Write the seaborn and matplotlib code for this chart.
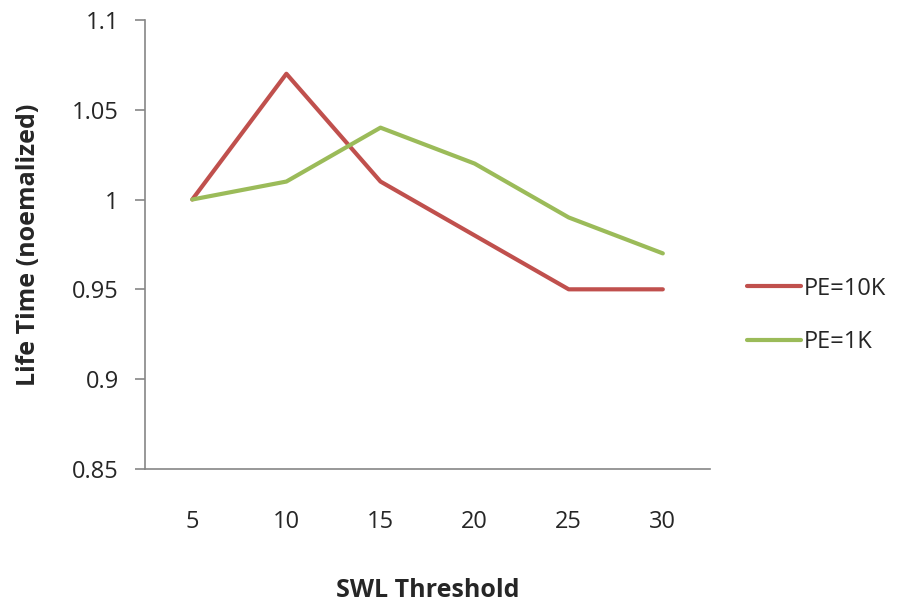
import pandas as pd
import matplotlib
matplotlib.use("Agg")
import matplotlib.pyplot as plt
import seaborn as sns

# Values
thresholds = ["5", "10", "15", "20", "25", "30"]
pe_10k = [1.00, 1.07, 1.01, 0.98, 0.95, 0.95]
pe_1k = [1.00, 1.01, 1.04, 1.02, 0.99, 0.97]
series_names = ["PE=10K", "PE=1K"]
y_ticks = [0.85, 0.9, 0.95, 1.0, 1.05, 1.1]
y_tick_labels = ["0.85", "0.9", "0.95", "1", "1.05", "1.1"]

# long-form table for seaborn
df = pd.DataFrame({
    "pos": list(range(len(thresholds))) * 2,
    "value": pe_10k + pe_1k,
    "series": [series_names[0]] * len(thresholds) + [series_names[1]] * len(thresholds),
})

sns.set_style("white")
plt.rcParams["font.family"] = ["Open Sans", "DejaVu Sans"]

fig = plt.figure(figsize=(9.02, 6.02), dpi=100)
ax = fig.add_axes([0.161, 0.221, 0.626, 0.746])

sns.lineplot(data=df, x="pos", y="value", hue="series",
             palette=["#C0504D", "#9BBB59"], linewidth=3, ax=ax,
             legend=False)

ax.set_xlim(-0.5, len(thresholds) - 0.5)
ax.set_ylim(0.85, 1.1)
ax.set_xticks(range(len(thresholds)))
ax.set_xticklabels(thresholds)
ax.set_yticks(y_ticks)
ax.set_yticklabels(y_tick_labels)

for side in ["top", "right"]:
    ax.spines[side].set_visible(False)
for side in ["left", "bottom"]:
    ax.spines[side].set_color("#868686")
    ax.spines[side].set_linewidth(1.2)

ax.tick_params(axis="y", left=True, length=7, width=1.2, color="#868686",
               labelsize=17, pad=12)
ax.tick_params(axis="x", bottom=False, labelsize=17, pad=26)

ax.set_xlabel("SWL Threshold", fontsize=18, fontweight="bold", labelpad=32)
ax.set_ylabel("Life Time (noemalized)", fontsize=18, fontweight="bold", labelpad=22)

handles = ax.get_lines()[:2]
fig.legend(handles, series_names, loc="center left",
           bbox_to_anchor=(0.828, 0.476), frameon=False, fontsize=17,
           handlelength=2.3, handletextpad=0.1, labelspacing=1.25,
           borderaxespad=0, borderpad=0)

fig.savefig("out.png", dpi=100)
